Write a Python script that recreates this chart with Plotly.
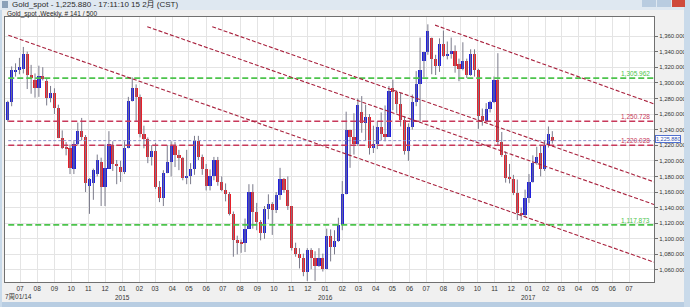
import plotly.graph_objects as go
import pandas as pd

# ---------------- data ----------------
week_start = "2014-06-09"
n_weeks = 141
opens = [1252,1275,1314,1316,1318,1337,1310,1304,1294,1309,1302,1280,1287,1268,1229,1218,1216,1190,1222,1238,
         1230,1168,1172,1183,1199,1167,1190,1220,1196,1192,
         1186,1216,1277,1294,1282,1234,1228,1205,1213,1167,1152,1184,1199,1219,1207,1203,1178,1180,1189,1225,
         1205,1189,1168,1180,1201,1173,1163,1157,1132,1098,1095,1094,1113,1160,1134,1121,1108,1138,1145,1137,
         1156,1177,1163,1142,1088,1081,1076,1057,1086,1075,1065,1076,
         1061,1104,1089,1097,1118,1158,1239,1231,1221,1263,1249,1256,1217,1222,1243,1235,1231,1293,1288,1273,
         1252,1212,1243,1275,1298,1328,1340,1357,1330,1322,1350,1335,1337,1341,1324,1318,1328,1310,1337,1316,
         1257,1251,1266,1275,1304,1224,1208,1178,1177,1159,1133,1131,
         1152,1173,1197,1210,1190,1220,1230]
highs = [1277,1321,1325,1332,1346,1340,1323,1312,1322,1320,1306,1296,1293,1272,1239,1224,1221,1225,1249,1255,
         1233,1178,1190,1208,1204,1221,1238,1225,1201,1200,
         1225,1282,1307,1298,1285,1245,1230,1220,1223,1174,1188,1220,1225,1224,1214,1205,1214,1197,1232,1232,
         1208,1196,1189,1205,1205,1180,1171,1160,1135,1104,1099,1126,1170,1170,1146,1124,1142,1157,1147,1160,
         1191,1178,1180,1142,1095,1088,1081,1088,1088,1084,1088,1081,
         1113,1112,1111,1127,1174,1263,1240,1261,1280,1283,1272,1260,1245,1251,1262,1271,1296,1304,1290,1287,
         1257,1248,1285,1315,1358,1340,1375,1358,1336,1357,1367,1353,1358,1348,1331,1352,1331,1343,1343,1318,
         1267,1274,1277,1308,1338,1237,1212,1196,1182,1176,1140,1163,
         1183,1207,1218,1220,1226,1244,1238]
lows = [1250,1270,1308,1311,1312,1292,1286,1281,1282,1303,1271,1275,1260,1229,1215,1207,1183,1183,1220,1226,
        1160,1132,1150,1180,1142,1142,1190,1187,1170,1173,
        1183,1216,1276,1251,1230,1216,1197,1194,1164,1147,1142,1184,1180,1192,1188,1175,1170,1170,1182,1201,
        1182,1162,1162,1175,1168,1161,1148,1130,1077,1080,1082,1083,1113,1113,1111,1098,1100,1125,1105,1133,
        1150,1159,1137,1085,1077,1062,1052,1046,1061,1046,1064,1058,
        1061,1071,1080,1096,1111,1157,1191,1208,1219,1236,1226,1208,1210,1215,1226,1225,1231,1265,1261,1244,
        1208,1200,1240,1270,1250,1307,1336,1311,1310,1314,1333,1330,1331,1313,1302,1316,1306,1309,1308,1241,
        1245,1251,1262,1274,1220,1205,1172,1171,1156,1124,1124,1128,
        1146,1172,1195,1180,1187,1217,1222]
closes = [1275,1316,1317,1320,1337,1310,1306,1294,1309,1305,1281,1287,1268,1229,1216,1215,1191,1222,1238,1231,
          1171,1177,1188,1201,1167,1191,1222,1196,1194,1186,
          1216,1277,1293,1282,1234,1228,1205,1213,1167,1152,1184,1199,1219,1207,1203,1178,1180,1189,1225,1205,
          1189,1168,1180,1201,1173,1163,1157,1132,1098,1095,1094,1113,1160,1134,1121,1108,1138,1145,1137,1156,
          1177,1163,1142,1088,1081,1076,1057,1086,1075,1065,1076,1061,
          1104,1089,1097,1118,1158,1239,1231,1221,1271,1249,1256,1217,1222,1243,1235,1231,1290,1288,1273,1252,
          1212,1243,1275,1298,1316,1340,1366,1330,1322,1350,1335,1337,1341,1321,1318,1328,1310,1337,1316,1257,
          1251,1266,1275,1304,1224,1208,1178,1177,1159,1133,1131,1152,
          1173,1197,1205,1190,1220,1234,1226]

hline_values = [1305.962, 1250.728, 1225.880, 1220.028, 1117.873]
hline_labels = ["1,305.962", "1,250.728", "", "1,220.028", "1,117.873"]
hline_colors = ["#4cc44c", "#c8385a", "#8c8cc8", "#c8385a", "#4cc44c"]

trend_start_dates = ["2014-06-10", "2015-02-15", "2015-06-12", "2016-07-17"]
trend_start_prices = [1361, 1372, 1372, 1374]
trend_end_dates = ["2017-08-15", "2017-08-15", "2017-08-15", "2017-08-15"]
trend_end_prices = [1070, 1144, 1173, 1273]

last_price = 1225.880
last_price_label = "1,225.880"

month_ticks = pd.date_range("2014-07-01", "2017-07-01", freq="MS")
month_labels = [d.strftime("%m") for d in month_ticks]
year_labels = ["2015", "2016", "2017"]
year_positions = ["2015-01-01", "2016-01-01", "2017-01-01"]
first_label = "7周01/14"

title_text = "Gold_spot - 1,225.880 - 17:11:10 15 2月 (CST)"
subtitle_text = "Gold_spot ,Weekly, # 141 / 500"

y_ticks = list(range(1060, 1361, 20))
y_tick_labels = [f"{v:,.3f}" for v in y_ticks]

# ---------------- figure ----------------
W, H = 690, 307
dates = pd.date_range(week_start, periods=n_weeks, freq="7D")
BLUE = "#2020dc"
RED = "#e6202a"

fig = go.Figure()

# wicks
wx, wy = [], []
for d, lo, hi in zip(dates, lows, highs):
    wx += [d, d, None]
    wy += [lo, hi, None]
fig.add_trace(go.Scatter(x=wx, y=wy, mode="lines", line=dict(color="#7a7a8a", width=1),
                         hoverinfo="skip", showlegend=False))

# bodies
bases = [min(o, c) for o, c in zip(opens, closes)]
heights = [max(abs(c - o), 1.2) for o, c in zip(opens, closes)]
colors = [BLUE if c >= o else RED for o, c in zip(opens, closes)]
fig.add_trace(go.Bar(x=dates, y=heights, base=bases, marker=dict(color=colors, line=dict(width=0)),
                     width=5.8 * 86400000, showlegend=False, hoverinfo="skip"))

shapes = []
annotations = []

# horizontal lines
for v, lab, col in zip(hline_values, hline_labels, hline_colors):
    w = 1 if lab == "" else 1.6
    dash = "3px,2px" if lab == "" else "6px,3px"
    shapes.append(dict(type="line", xref="x domain", yref="y", x0=0.005, x1=1, y0=v, y1=v,
                       line=dict(color=col, width=w, dash=dash)))
    if lab:
        annotations.append(dict(xref="x domain", yref="y", x=0.997, y=v, text=lab, showarrow=False,
                                xanchor="right", yanchor="bottom", yshift=-1,
                                font=dict(size=6.5, color=col, family="Liberation Sans")))

# trend lines
for xs, ys, xe, ye in zip(trend_start_dates, trend_start_prices, trend_end_dates, trend_end_prices):
    shapes.append(dict(type="line", xref="x", yref="y", x0=xs, y0=ys, x1=xe, y1=ye,
                       line=dict(color="#a8203c", width=1.1, dash="4px,2px")))

# window chrome
def px_rect(x0, y0, x1, y1, color, layer="above"):
    return dict(type="rect", xref="paper", yref="paper", x0=x0 / W, x1=x1 / W,
                y0=1 - y1 / H, y1=1 - y0 / H, fillcolor=color, line=dict(width=0), layer=layer)

shapes.append(px_rect(0, 0, 690, 10, "#dfe8f1"))
shapes.append(px_rect(0, 302, 690, 307, "#b8cde2"))
shapes.append(px_rect(684, 0, 690, 307, "#c9daea"))
shapes.append(px_rect(0, 10, 2, 307, "#c9daea"))
shapes.append(px_rect(642, 0, 656, 7, "#b9cce0"))
shapes.append(px_rect(657, 0, 671, 7, "#b9cce0"))
shapes.append(px_rect(672, 0, 685, 7, "#cf4a3c"))
shapes.append(px_rect(2, 1, 8, 8, "#8aa0b8"))

annotations.append(dict(xref="paper", yref="paper", x=10 / W, y=1 - 4.5 / H, text=title_text,
                        showarrow=False, xanchor="left", yanchor="middle",
                        font=dict(size=8, color="#2a2a2a", family="Liberation Sans, Noto Sans CJK SC")))
annotations.append(dict(xref="paper", yref="paper", x=5 / W, y=1 - 13.5 / H, text=subtitle_text,
                        showarrow=False, xanchor="left", yanchor="middle",
                        font=dict(size=6.5, color="#2a2a2a", family="Liberation Sans")))

# year labels
for lab, pos in zip(year_labels, year_positions):
    annotations.append(dict(xref="x", yref="paper", x=pos, y=1 - 297 / H, text=lab, showarrow=False,
                            xanchor="center", yanchor="middle",
                            font=dict(size=6.5, color="#333", family="Liberation Sans")))
annotations.append(dict(xref="paper", yref="paper", x=3 / W, y=1 - 297 / H, text=first_label,
                        showarrow=False, xanchor="left", yanchor="middle",
                        font=dict(size=6.5, color="#333", family="Liberation Sans, Noto Sans CJK SC")))

# last price box
annotations.append(dict(xref="paper", yref="y", x=655 / W, y=last_price, text=last_price_label,
                        showarrow=False, xanchor="left", yanchor="middle", yshift=1.5,
                        bgcolor="white", bordercolor="#5070d0", borderwidth=1, borderpad=0,
                        font=dict(size=5.5, color="#3050b0", family="Liberation Sans")))

fig.update_layout(
    width=W, height=H, autosize=False,
    margin=dict(l=0, r=0, t=0, b=0),
    paper_bgcolor="#f0f0f0", plot_bgcolor="white",
    shapes=shapes, annotations=annotations,
    hovermode=False, bargap=0,
    xaxis=dict(domain=[5 / W, 654 / W], type="date", range=["2014-06-04", "2017-08-15"],
               tickmode="array", tickvals=list(month_ticks), ticktext=month_labels,
               showgrid=True, gridcolor="#e4e4e4", gridwidth=1,
               showline=True, linecolor="#707070", linewidth=1, mirror=True,
               ticks="", tickfont=dict(size=6.5, color="#333", family="Liberation Sans"),
               automargin=False, zeroline=False),
    yaxis=dict(domain=[1 - 282 / H, 1 - 17 / H], range=[1044.6, 1384.4], side="right",
               tickmode="array", tickvals=y_ticks, ticktext=y_tick_labels,
               showgrid=True, gridcolor="#e4e4e4", gridwidth=1,
               showline=True, linecolor="#707070", linewidth=1, mirror=True,
               ticks="outside", ticklen=3, tickcolor="#707070",
               tickfont=dict(size=6, color="#333", family="Liberation Sans"),
               automargin=False, zeroline=False),
)

fig.write_html("out.html")
